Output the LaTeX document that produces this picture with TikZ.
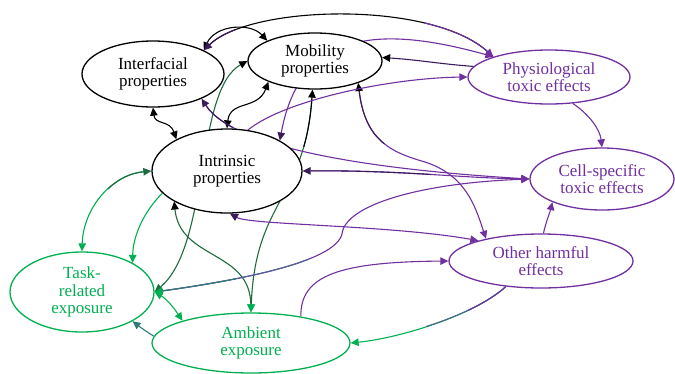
\documentclass[tikz,border=0pt]{standalone}
\usepackage{fontspec}
\setmainfont{Liberation Serif}
\usetikzlibrary{shapes.geometric,arrows.meta}
\pgfdeclarelayer{bg}
\pgfsetlayers{bg,main}
\definecolor{purp}{HTML}{7030A0}
\definecolor{grn}{HTML}{00B050}
\definecolor{dgrn}{HTML}{1E6B40}
\definecolor{dpurp}{HTML}{3A1B5C}
\definecolor{teal2}{HTML}{2F7A78}
\definecolor{slate}{HTML}{4F6496}
\tikzset{
  atip/.tip={Triangle[length=8pt,width=7.5pt]},
  ell/.style={ellipse,draw,line width=1.3pt,fill=white,inner sep=0pt,align=center,
    font=\fontsize{17}{17.5}\selectfont},
  edge/.style={line width=1.1pt},
  seg/.style 2 args={draw=#1,line width=1.1pt,dash pattern=on #2 off 4000pt},
}
\begin{document}
\begin{tikzpicture}[x=1pt,y=-1pt]
\useasboundingbox (0,0) rectangle (675,373);
% nodes
\node[ell,minimum width=142pt,minimum height=66pt] (interf) at (153,74) {Interfacial\\properties};
\node[ell,minimum width=134pt,minimum height=56pt] (mob) at (315,61) {Mobility\\properties};
\node[ell,minimum width=150pt,minimum height=84pt] (intr) at (227,171) {Intrinsic\\properties};
\node[ell,draw=purp,text=purp,minimum width=162pt,minimum height=54pt] (phys) at (549,77) {Physiological\\toxic effects};
\node[ell,draw=purp,text=purp,minimum width=144pt,minimum height=62pt] (cell) at (602,179) {Cell-specific\\toxic effects};
\node[ell,draw=purp,text=purp,minimum width=184pt,minimum height=54pt] (oth) at (541,261) {Other harmful\\effects};
\node[ell,draw=grn,text=grn,minimum width=144pt,minimum height=80pt] (task) at (82,292) {Task-\\related\\exposure};
\node[ell,draw=grn,text=grn,minimum width=198pt,minimum height=60pt] (amb) at (251,343) {Ambient\\exposure};
\begin{pgfonlayer}{bg}
% Interfacial <-> Mobility
\draw[edge,{atip}-{atip}] (interf.25) .. controls (215,25) and (250,22) .. (mob.157);
% Interfacial <-> Physiological (top arc)
\draw[edge,{atip[color=dpurp]}-{atip[color=purp]}] (interf.25) .. controls (250,5) and (430,0) .. (phys.160);
\draw[seg={purp}{70pt},shorten <=8pt] (phys.160) .. controls (430,0) and (250,5) .. (interf.25);
\draw[seg={dpurp}{30pt},shorten <=8pt] (interf.25) .. controls (250,5) and (430,0) .. (phys.160);
% Interfacial <-> Intrinsic
\draw[edge,{atip}-{atip}] (interf.south) .. controls (155,125) and (170,120) .. (intr.148);
% Mobility <-> Intrinsic
\draw[edge,{atip}-{atip}] (mob.204) .. controls (258,110) and (230,100) .. (intr.90);
% Task <-> Mobility
\draw[edge,draw=dgrn,{atip[color=dgrn]}-{atip[color=black]}] (task.0) .. controls (210,245) and (195,90) .. (mob.180);
% Mobility <-> Ambient
\draw[edge,draw=dgrn,{atip[color=black]}-{atip[color=grn]}] (mob.265) .. controls (305,200) and (255,200) .. (amb.90);
\draw[seg={black}{50pt},shorten <=8pt] (mob.265) .. controls (305,200) and (255,200) .. (amb.90);
% Intrinsic <-> Ambient
\draw[edge,draw=dgrn,{atip[color=black]}-{atip[color=grn]}] (intr.210) .. controls (180,260) and (250,250) .. (amb.90);
% Intrinsic -> Task
\draw[edge,draw=grn,-{atip}] (intr.199) .. controls (145,210) and (133,235) .. (task.30);
% Intrinsic <-> Task (left arc)
\draw[edge,draw=grn,{atip[color=dgrn]}-{atip}] (intr.180) .. controls (110,175) and (83,210) .. (task.90);
\draw[seg={dgrn}{40pt},shorten <=8pt] (intr.180) .. controls (110,175) and (83,210) .. (task.90);
% Task <-> Ambient
\draw[edge,draw=grn,{atip}-{atip}] (task.0) .. controls (165,298) and (172,305) .. (amb.162);
% Ambient -> Task
\draw[edge,draw=teal2,-{atip}] (amb.176) .. controls (147,332) and (140,327) .. (task.-30);
% Other -> Ambient
\draw[edge,draw=grn,-{atip}] (oth.216) .. controls (475,315) and (400,338) .. (amb.0);
\draw[seg={slate}{90pt}] (oth.216) .. controls (475,315) and (400,338) .. (amb.0);
\draw[seg={purp}{45pt}] (oth.216) .. controls (475,315) and (400,338) .. (amb.0);
% Ambient -> Other
\draw[edge,draw=purp,-{atip}] (amb.28) .. controls (300,275) and (340,262) .. (oth.180);
% Task <-> Cell
\draw[edge,draw=purp,{atip[color=grn]}-{atip}] (task.0) .. controls (240,280) and (335,262) .. (342,234) .. controls (345,205) and (420,183) .. (cell.180);
\draw[seg={slate}{150pt},shorten <=8pt] (task.0) .. controls (240,280) and (335,262) .. (342,234) .. controls (345,205) and (420,183) .. (cell.180);
\draw[seg={teal2}{75pt},shorten <=8pt] (task.0) .. controls (240,280) and (335,262) .. (342,234) .. controls (345,205) and (420,183) .. (cell.180);
% Interfacial <-> Cell
\draw[edge,draw=purp,{atip[color=dpurp]}-{atip}] (interf.-27) .. controls (235,150) and (380,170) .. (cell.180);
\draw[seg={dpurp}{35pt},shorten <=8pt] (interf.-27) .. controls (235,150) and (380,170) .. (cell.180);
% Intrinsic <-> Cell
\draw[edge,draw=purp,{atip[color=dpurp]}-{atip}] (intr.0) .. controls (400,170) and (460,178) .. (cell.180);
\draw[seg={dpurp}{120pt},shorten <=8pt] (intr.0) .. controls (400,170) and (460,178) .. (cell.180);
% Intrinsic <-> Other
\draw[edge,draw=purp,{atip[color=dpurp]}-{atip}] (intr.274) .. controls (250,225) and (390,225) .. (oth.162);
% Mobility <-> Other
\draw[edge,draw=purp,{atip[color=black]}-{atip}] (mob.-27) .. controls (365,140) and (390,152) .. (425,162) .. controls (465,175) and (475,205) .. (oth.158);
\draw[seg={dpurp}{60pt},shorten <=8pt] (mob.-27) .. controls (365,140) and (390,152) .. (425,162) .. controls (465,175) and (475,205) .. (oth.158);
% Intrinsic <-> Physiological (behind Mobility)
\draw[edge,draw=purp,{atip[color=dpurp]}-{atip}] (intr.30) .. controls (300,30) and (380,25) .. (phys.160);
% Intrinsic -> Physiological
\draw[edge,draw=purp,-{atip}] (intr.63) .. controls (285,100) and (390,78) .. (phys.180);
% Physiological -> Mobility
\draw[edge,draw=dpurp,-{atip[color=black]}] (phys.172) .. controls (440,64) and (420,60) .. (mob.3);
% Physiological -> Cell
\draw[edge,draw=purp,-{atip}] (phys.-48) .. controls (590,115) and (600,130) .. (cell.90);
% Other -> Cell
\draw[edge,draw=purp,-{atip}] (oth.85) .. controls (546,222) and (550,212) .. (cell.205);
\end{pgfonlayer}
\end{tikzpicture}
\end{document}
